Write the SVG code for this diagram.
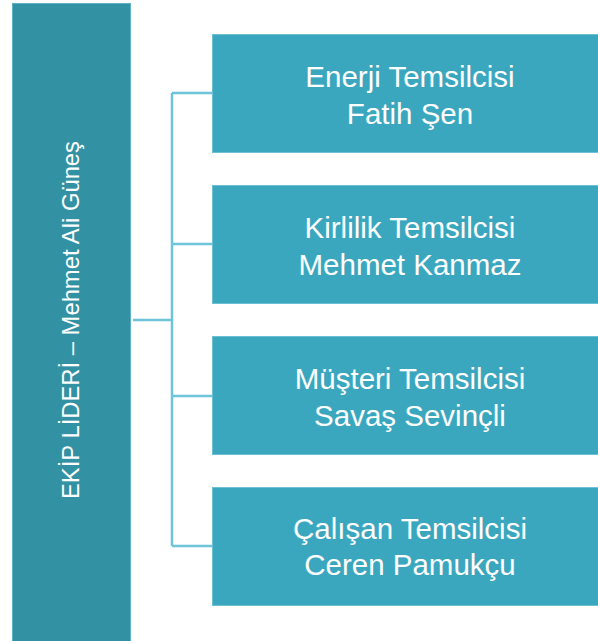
<svg xmlns="http://www.w3.org/2000/svg" width="598" height="641" viewBox="0 0 598 641">
<style>
.lead{fill:#3292a3;stroke:#5fb3c6;stroke-width:1}
.box{fill:#3aa7bf;stroke:#6cc0d4;stroke-width:1}
.t{fill:#ffffff;font-family:"Liberation Sans",Arial,sans-serif;font-size:29.5px;text-anchor:middle}
.lt{fill:#ffffff;font-family:"Liberation Sans",Arial,sans-serif;font-size:23.8px;text-anchor:middle}
.c{fill:none;stroke:#6ec4d9;stroke-width:2.5}
</style>
<rect width="598" height="641" fill="#ffffff"/>
<g id="connectors">
<path class="c" d="M133,320 H172 M172,93 V546 M172,93 H212 M172,244 H212 M172,396 H212 M172,546 H212"/>
</g>
<g id="leader">
<rect class="lead" x="12.5" y="3.5" width="118" height="645"/>
<text class="lt" transform="translate(79,320) rotate(-90)">EKİP LİDERİ – Mehmet Ali Güneş</text>
</g>
<g id="energy">
<rect class="box" x="212.5" y="34.5" width="392" height="118"/>
<text class="t" x="410" y="87">Enerji Temsilcisi</text>
<text class="t" x="410" y="124">Fatih Şen</text>
</g>
<g id="pollution">
<rect class="box" x="212.5" y="185.5" width="392" height="118"/>
<text class="t" x="410" y="238">Kirlilik Temsilcisi</text>
<text class="t" x="410" y="275">Mehmet Kanmaz</text>
</g>
<g id="customer">
<rect class="box" x="212.5" y="336.5" width="392" height="118"/>
<text class="t" x="410" y="389">Müşteri Temsilcisi</text>
<text class="t" x="410" y="426">Savaş Sevinçli</text>
</g>
<g id="employee">
<rect class="box" x="212.5" y="487.5" width="392" height="118"/>
<text class="t" x="410" y="539">Çalışan Temsilcisi</text>
<text class="t" x="410" y="575">Ceren Pamukçu</text>
</g>
</svg>
